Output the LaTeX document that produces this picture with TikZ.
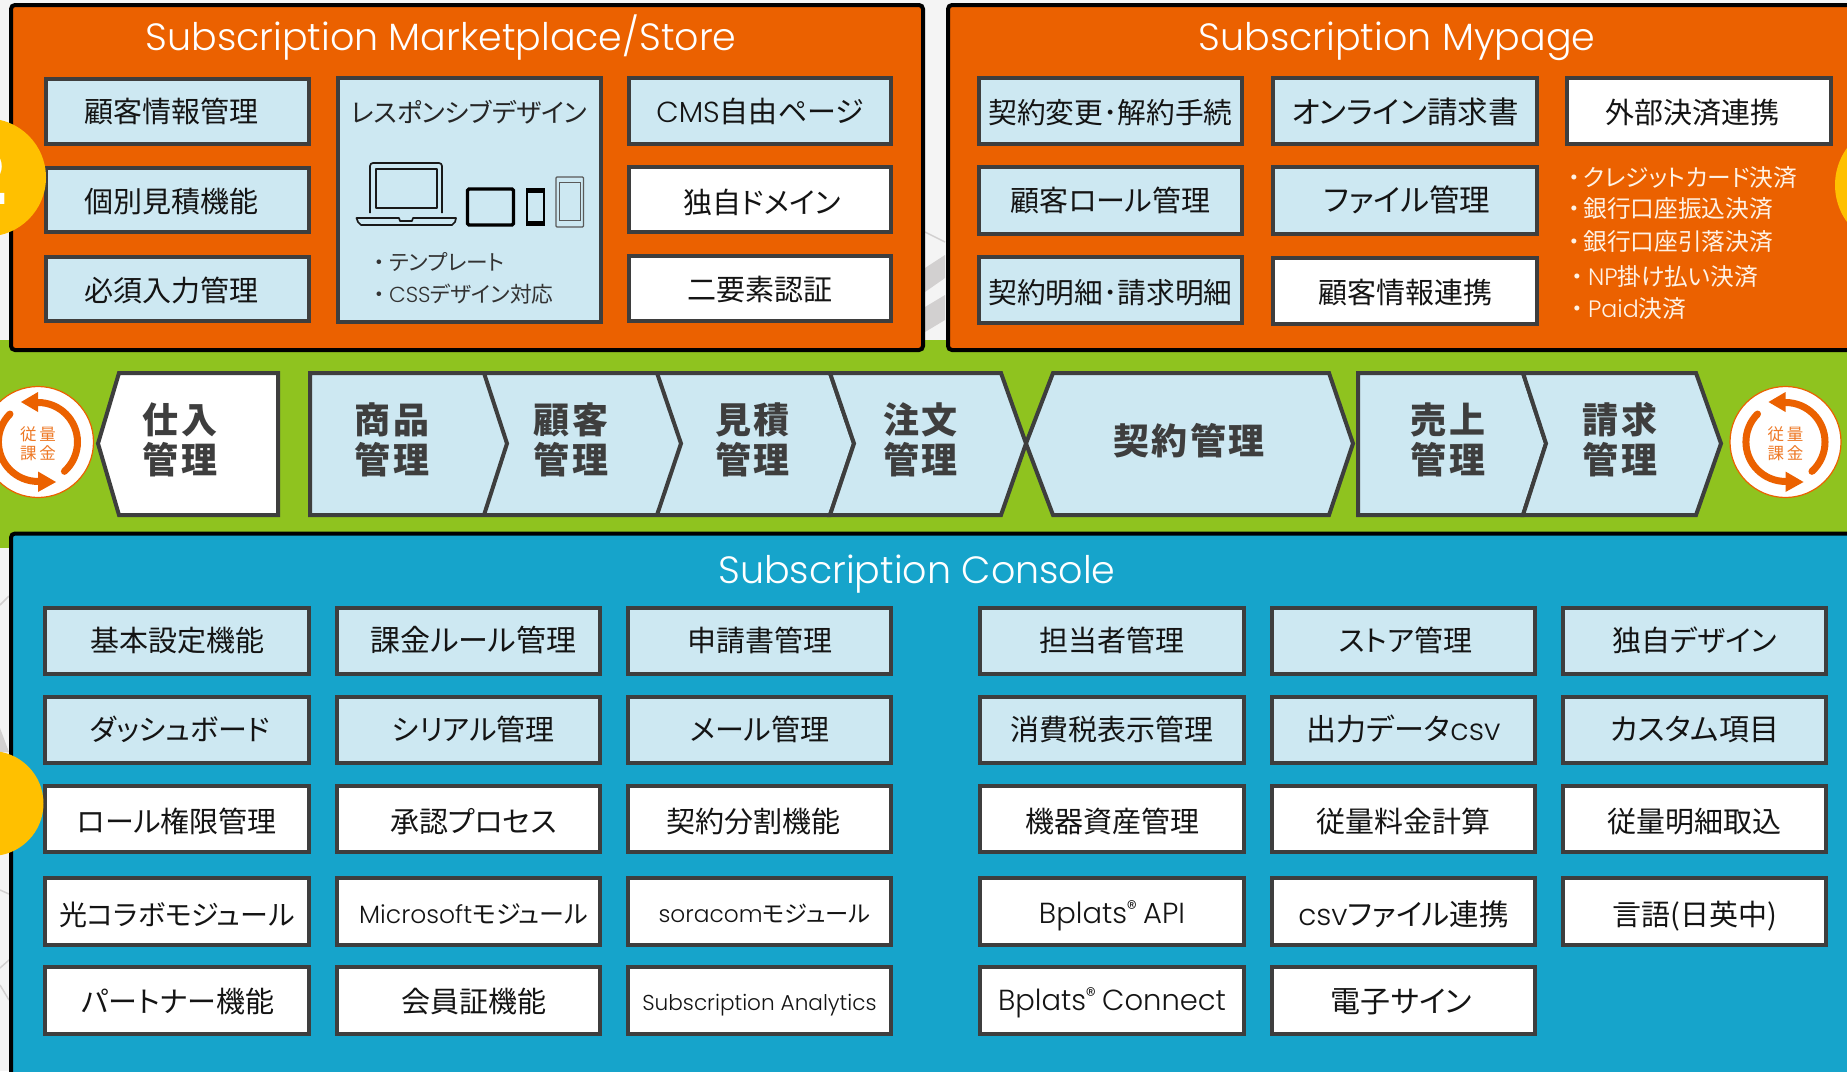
\documentclass[tikz,border=0pt]{standalone}
\usepackage{fontspec}
\setmainfont{Noto Sans CJK JP}[RawFeature={+palt}]
\newfontfamily\latf{Poppins}[UprightFont=* Light]
\newfontfamily\flowf{Noto Sans CJK JP}[LetterSpace=6]
\newfontfamily\cycf{Noto Sans CJK JP}[LetterSpace=18]
\newcommand\fsz[1]{\fontsize{#1}{#1}\selectfont}
\newcommand\la[1]{{\latf #1}}
\newcommand\reg{\raisebox{7pt}{\fsz{20}®}}
\newcommand\rt[2]{\kern#1pt #2}
\newcommand\lf[2]{#2\kern#1pt}
\definecolor{cOrange}{HTML}{EB6100}
\definecolor{cBlue}{HTML}{16A4CB}
\definecolor{cGreen}{HTML}{8FC31F}
\definecolor{cYellow}{HTML}{FFC000}
\definecolor{cPale}{HTML}{CDE8F2}
\definecolor{cEdge}{HTML}{3E3E3E}
\definecolor{cBack}{HTML}{F4F4F4}
\definecolor{cStripe}{HTML}{D2D0D0}
\tikzset{
  panel/.style={draw=black,line width=4pt,rounded corners=4pt},
  boxbase/.style={draw=cEdge,line width=4pt,inner sep=0pt,text=black!92,font=\fsz{29},text height=25pt,text depth=3pt},
  up/.style={text height=23pt},
  lowa/.style={text height=27pt},
  lowb/.style={text height=30pt},
  pale/.style={boxbase,fill=cPale},
  plain/.style={boxbase,fill=white},
  flowshape/.style={draw=cEdge,line width=4pt,line join=miter,miter limit=10},
  flowtext/.style={inner sep=0pt,align=center,text=cEdge,font=\flowf\bfseries\fsz{36}},
  paneltitle/.style={inner sep=0pt,anchor=base,text=white,font=\latf\fsz{38}},
  listitem/.style={inner sep=0pt,anchor=west,font=\fsz{23.7},text=white!90!orange},
  smalllist/.style={inner sep=0pt,anchor=west,font=\fsz{21.7},text=black!80},
  glyphline/.style={draw=black!90,line width=1.7pt,line join=round},
  cyc/.style={draw=cOrange,line width=7pt,line cap=round},
}
\newcommand\bx[7]{%
  \pgfmathsetmacro\bw{#5-#3-4}\pgfmathsetmacro\bh{#6-#4-4}%
  \pgfmathsetmacro\cx{(#3+#5)/2}\pgfmathsetmacro\cy{(#4+#6)/2}%
  \node[#2,minimum width=\bw pt,minimum height=\bh pt] (#1) at (\cx,\cy) {#7};}
\newcommand\cycle[2]{%
  \begin{scope}[shift={(#1,442)}]
    \node[circle,draw=cOrange,fill=white,line width=1.2pt,minimum size=111pt,inner sep=0pt] (#2) at (0,0) {};
    \draw[cyc] (0,-39.5) arc[start angle=90,end angle=-48,x radius=39.5,y radius=-39.5];
    \fill[cOrange] (-17,-40) -- (0,-50) -- (0,-30) -- cycle;
    \draw[cyc] (-28,-28) arc[start angle=135,end angle=270,x radius=39.5,y radius=-39.5];
    \fill[cOrange] (18,40) -- (0,29.5) -- (0,50) -- cycle;
    \node[inner sep=0pt,align=center,text=cOrange!85,font=\cycf\fsz{16.5}] (#2t) at (0,1.5) {従量\\[3pt]課金};
  \end{scope}}
\begin{document}
\begin{tikzpicture}[x=1pt,y=-1pt]
\useasboundingbox (0,0) rectangle (1847,1071);
% background
\fill[cBack] (0,0) rectangle (1847,1071);
\fill[cStripe] (925,268) -- (945,255) -- (945,278) -- (925,292) -- cycle;
\fill[cStripe] (925,307) -- (945,295) -- (945,320) -- (925,332) -- cycle;
\draw[cStripe,line width=1.5pt] (925,232) -- (945,242);
\fill[cStripe] (0,728) -- (9,752) -- (0,752) -- cycle;
\draw[cStripe,line width=1.5pt] (0,605) -- (9,596);
\draw[cStripe,line width=1.5pt] (0,890) -- (9,894);
\draw[cStripe,line width=1.5pt] (0,968) -- (9,960);
\draw[cStripe,line width=1.5pt] (0,985) -- (9,1000);
% band and panels
\fill[cGreen] (0,340) rectangle (1847,548);
\path[panel,fill=cOrange] (11,5) rectangle (923,350);
\path[panel,fill=cOrange] (948,5) rectangle (1870,350);
\path[panel,fill=cBlue] (11,533.5) rectangle (1870,1090);
\node[paneltitle] (t1) at (441,50) {Subscription Marketplace/Store};
\node[paneltitle] (t2) at (1397,50) {Subscription Mypage};
\node[paneltitle] (t3) at (917,583.5) {Subscription Console};
% store
\bx{a1}{pale}{44}{77}{311}{146}{\lf{12}{顧客情報管理}}
\bx{a2}{pale,lowa}{44}{166}{311}{234}{\lf{12}{個別見積機能}}
\bx{a3}{pale,lowa}{44}{255}{311}{323}{\lf{12}{必須入力管理}}
\bx{a4}{pale}{336}{76}{603}{324}{}
\bx{a5}{pale}{627}{76}{893}{146}{\la{CMS}自由ページ}
\bx{a6}{plain,lowb}{627}{165}{893}{234}{\rt{4}{独自ドメイン}}
\bx{a7}{plain,lowa}{627}{254}{893}{323}{二要素認証}
\node[inner sep=0pt,font=\fsz{26},text=black!85] (a4t) at (469,112) {レスポンシブデザイン};
\node[smalllist] (a4l1) at (374,262) {・\kern4pt テンプレート};
\node[smalllist] (a4l2) at (374,294) {・\kern4pt\la{CSS}デザイン対応};
% device icons
\draw[glyphline,rounded corners=3pt] (370,213) -- (370,163) -- (442,163) -- (442,213);
\draw[glyphline] (375.7,169) rectangle (436.7,208.3);
\draw[glyphline] (356.5,218) -- (399,218) -- (400,221) -- (412,221) -- (413,218) -- (456,218) -- (455,222) -- (452,225) -- (361,225) -- (358,222) -- cycle;
\draw[black,fill=cPale,line width=3.4pt,rounded corners=1.5pt] (467.5,189) rectangle (513.5,225);
\draw[black,fill=cPale,line width=2pt] (526.5,189) rectangle (543.7,225);
\fill[black] (526,189) rectangle (544,193);
\fill[black] (526,221) rectangle (544,226);
\draw[black!65,line width=1.2pt,rounded corners=1pt] (556,177) rectangle (583.5,227);
\draw[black!65,line width=1.2pt] (559.5,182.5) rectangle (580.5,220.5);
% mypage
\bx{b1}{pale,lowa}{977}{76}{1244}{146}{{\fsz{28.7}契約変更･解約手続}}
\bx{b2}{pale,lowa}{1271}{76}{1539}{146}{{\fsz{30.5}オンライン請求書}}
\bx{b3}{plain,lowa}{1565}{76}{1833}{146}{\lf{14}{外部決済連携}}
\bx{b4}{pale}{977}{165}{1244}{236}{顧客ロール管理}
\bx{b5}{pale}{1271}{165}{1539}{236}{\rt{4}{{\fsz{30.5}ファイル管理}}}
\bx{b6}{pale,lowb}{977}{255}{1244}{325}{{\fsz{28.7}契約明細･請求明細}}
\bx{b7}{plain,lowa}{1271}{256}{1539}{326}{顧客情報連携}
\node[listitem] (l1) at (1568.4,178) {・\kern3pt クレジットカード決済};
\node[listitem] (l2) at (1568.4,209) {・\kern3pt 銀行口座振込決済};
\node[listitem] (l3) at (1568.4,242) {・\kern3pt 銀行口座引落決済};
\node[listitem] (l4) at (1571,277) {・\kern5pt\la{NP}掛け払い決済};
\node[listitem] (l5) at (1571,309) {・\kern5pt\la{Paid}決済};
% flow
\path[flowshape,fill=white] (98,443.5) -- (119,373) -- (278,373) -- (278,515) -- (119,515) -- cycle;
\path[flowshape,fill=cPale] (1026,443.5) -- (1053,373) -- (1329,373) -- (1353,443.5) -- (1329,515) -- (1053,515) -- cycle;
\path[flowshape,fill=cPale] (310,373) -- (830,373) -- (854,443.5) -- (830,515) -- (310,515) -- cycle;
\path[flowshape,fill=cPale] (830,373) -- (1001,373) -- (1026,443.5) -- (1001,515) -- (830,515) -- (854,443.5) -- cycle;
\draw[flowshape] (484,373) -- (507,443.5) -- (484,515);
\draw[flowshape] (657,373) -- (681,443.5) -- (657,515);
\path[flowshape,fill=cPale] (1358,373) -- (1523,373) -- (1546,443.5) -- (1523,515) -- (1358,515) -- cycle;
\path[flowshape,fill=cPale] (1523,373) -- (1696,373) -- (1721,443.5) -- (1696,515) -- (1523,515) -- (1546,443.5) -- cycle;
\node[flowtext] (f1) at (180,440) {仕入\\[4pt]管理};
\node[flowtext] (f2) at (392,440) {商品\\[4pt]管理};
\node[flowtext] (f3) at (571,440) {顧客\\[4pt]管理};
\node[flowtext] (f4) at (752.5,440) {見積\\[4pt]管理};
\node[flowtext] (f5) at (920.7,440) {注文\\[4pt]管理};
\node[flowtext] (f6) at (1189,441) {契約管理};
\node[flowtext] (f7) at (1448,440) {売上\\[4pt]管理};
\node[flowtext] (f8) at (1620,440) {請求\\[4pt]管理};
\cycle{38}{cl}
\cycle{1785.5}{cr}
% console left
\bx{c11}{pale,up}{43}{606}{311}{676}{基本設定機能}
\bx{c12}{pale,up}{335}{606}{602}{676}{\rt{10}{{\fsz{30}課金ルール管理}}}
\bx{c13}{pale,up}{626}{606}{893}{676}{申請書管理}
\bx{c21}{pale,up}{43}{695}{311}{765}{\rt{6}{ダッシュボード}}
\bx{c22}{pale,up}{335}{695}{602}{765}{\rt{10}{シリアル管理}}
\bx{c23}{pale,up}{626}{695}{893}{765}{メール管理}
\bx{c31}{plain,lowb}{43}{784}{311}{854}{ロール権限管理}
\bx{c32}{plain,lowb}{335}{784}{602}{854}{\rt{10}{承認プロセス}}
\bx{c33}{plain,lowb}{626}{784}{893}{854}{\lf{12}{契約分割機能}}
\bx{c41}{plain,lowb}{43}{876}{311}{947}{{\fsz{28}光コラボモジュール}}
\bx{c42}{plain,lowa}{335}{876}{602}{947}{\rt{10}{{\fsz{25}\la{Microsoft}モジュール}}}
\bx{c43}{plain}{626}{876}{893}{947}{\rt{10}{{\fsz{23.3}\la{soracom}モジュール}}}
\bx{c51}{plain,lowa}{43}{965}{311}{1036}{\rt{2}{パートナー機能}}
\bx{c52}{plain,lowa}{335}{965}{602}{1036}{\rt{10}{会員証機能}}
\bx{c53}{plain,up}{626}{965}{893}{1036}{{\fsz{21.6}\la{Subscription Analytics}}}
% console right
\bx{d11}{pale,up}{978}{606}{1246}{676}{担当者管理}
\bx{d12}{pale,up}{1270}{606}{1537}{676}{\rt{4}{ストア管理}}
\bx{d13}{pale,up}{1561}{606}{1828}{676}{独自デザイン}
\bx{d21}{pale,up}{978}{695}{1246}{765}{消費税表示管理}
\bx{d22}{pale,up}{1270}{695}{1537}{765}{{\fsz{30}出力データ\la{csv}}}
\bx{d23}{pale,up}{1561}{695}{1828}{765}{{\fsz{30}カスタム項目}}
\bx{d31}{plain,lowb}{978}{784}{1246}{854}{機器資産管理}
\bx{d32}{plain,lowb}{1270}{784}{1537}{854}{従量料金計算}
\bx{d33}{plain,lowb}{1561}{784}{1828}{854}{従量明細取込}
\bx{d41}{plain,text height=26pt}{978}{876}{1246}{947}{\la{Bplats}\reg\ \la{API}}
\bx{d42}{plain,lowb}{1270}{876}{1537}{947}{{\fsz{29.5}\la{csv}ファイル連携}}
\bx{d43}{plain,lowb}{1561}{876}{1828}{947}{言語(日英中)}
\bx{d51}{plain,up}{978}{965}{1246}{1036}{\la{Bplats}\reg\ \la{Connect}}
\bx{d52}{plain,lowa}{1270}{965}{1537}{1036}{\lf{4}{{\fsz{30}電子サイン}}}
% yellow discs
\fill[cYellow] (-13,177.5) circle[radius=59];
\node[inner sep=0pt,text=white,font=\bfseries\fsz{74}] (y1) at (-14,177) {2};
\fill[cYellow] (-9,803.5) circle[radius=52.5];
\fill[cYellow] (1898,185) circle[radius=63];
\end{tikzpicture}
\end{document}
